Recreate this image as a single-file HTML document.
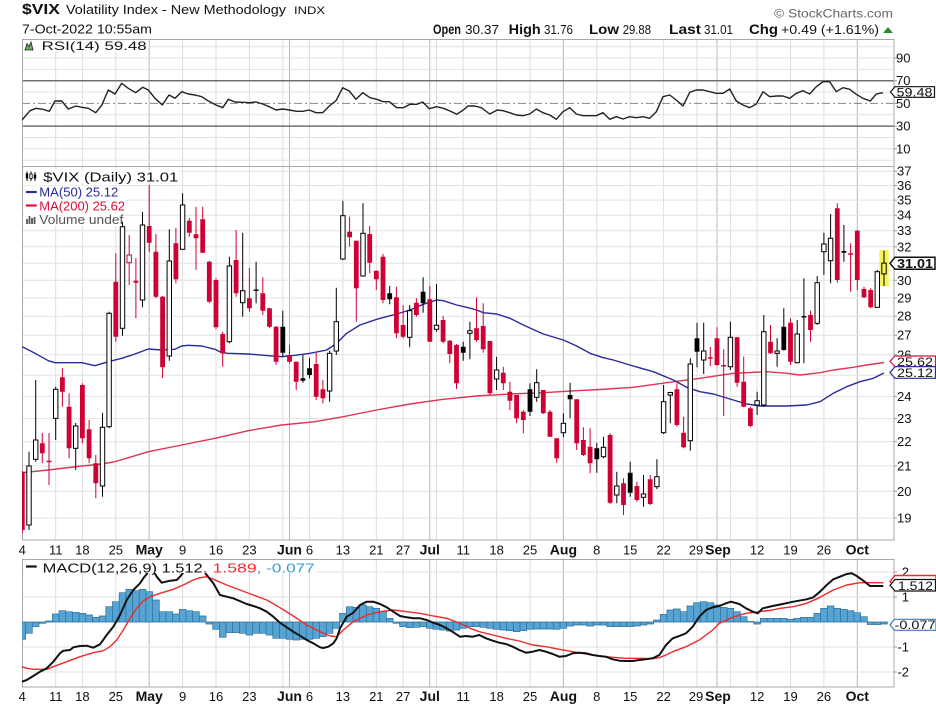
<!DOCTYPE html>
<html><head><meta charset="utf-8"><style>
html,body{margin:0;padding:0;background:#fff;}
svg{display:block;}
text{font-family:"Liberation Sans",Arial,sans-serif;}
</style></head><body>
<svg width="936" height="710" viewBox="0 0 936 710" xmlns="http://www.w3.org/2000/svg">
<defs>
<clipPath id="cr"><rect x="22" y="39" width="872" height="127"/></clipPath>
<clipPath id="cm"><rect x="22" y="166" width="872" height="374"/></clipPath>
<clipPath id="cd"><rect x="22" y="559" width="872" height="128"/></clipPath>
</defs>
<rect width="936" height="710" fill="#fff"/>

<!-- header -->
<text x="22" y="14" font-size="15" font-weight="bold" fill="#111" textLength="38" lengthAdjust="spacingAndGlyphs">$VIX</text>
<text x="66" y="14" font-size="13" fill="#111" textLength="220" lengthAdjust="spacingAndGlyphs">Volatility Index - New Methodology</text>
<text x="294" y="14" font-size="11" fill="#111" textLength="31" lengthAdjust="spacingAndGlyphs">INDX</text>
<text x="22" y="33.5" font-size="12.5" fill="#111" textLength="130" lengthAdjust="spacingAndGlyphs">7-Oct-2022 10:55am</text>
<text x="774" y="17.5" font-size="12" fill="#666" textLength="119" lengthAdjust="spacingAndGlyphs">© StockCharts.com</text>
<g font-size="13.5" fill="#111">
<text x="433" y="34" font-weight="bold" textLength="28" lengthAdjust="spacingAndGlyphs">Open</text>
<text x="465" y="34" font-size="12.5" textLength="34" lengthAdjust="spacingAndGlyphs">30.37</text>
<text x="508.7" y="34" font-weight="bold" textLength="32" lengthAdjust="spacingAndGlyphs">High</text>
<text x="544" y="34" font-size="12.5" textLength="29" lengthAdjust="spacingAndGlyphs">31.76</text>
<text x="589" y="34" font-weight="bold" textLength="30" lengthAdjust="spacingAndGlyphs">Low</text>
<text x="622.7" y="34" font-size="12.5" textLength="28.3" lengthAdjust="spacingAndGlyphs">29.88</text>
<text x="669" y="34" font-weight="bold" textLength="32" lengthAdjust="spacingAndGlyphs">Last</text>
<text x="704" y="34" font-size="12.5" textLength="29" lengthAdjust="spacingAndGlyphs">31.01</text>
<text x="749" y="34" font-weight="bold" textLength="29" lengthAdjust="spacingAndGlyphs">Chg</text>
<text x="781" y="34" font-size="12.5" textLength="98" lengthAdjust="spacingAndGlyphs">+0.49 (+1.61%)</text>
</g>
<polygon points="883,33 893,33 888,27" fill="#2e8b2e"/>

<!-- vertical gridlines (full height, gap covered later) -->
<path d="M55.7 39V687M82.4 39V687M115.8 39V687M182.6 39V687M216 39V687M249.4 39V687M282.8 39V687M309.5 39V687M342.9 39V687M376.3 39V687M403.1 39V687M436.5 39V687M463.2 39V687M496.6 39V687M530 39V687M596.8 39V687M630.2 39V687M663.6 39V687M697 39V687M730.4 39V687M757.1 39V687M790.5 39V687M823.9 39V687" stroke="#dedede" stroke-width="1" fill="none"/>
<path d="M149.2 39V687M289.5 39V687M429.8 39V687M563.4 39V687M717 39V687M857.3 39V687" stroke="#b8b8b8" stroke-width="1" fill="none"/>
<rect x="20" y="540.5" width="878" height="18" fill="#fff"/>

<!-- horizontal gridlines -->
<path d="M22 46.7H894M22 58H894M22 69.4H894M22 92.1H894M22 114.8H894M22 137.5H894M22 148.8H894M22 160.2H894" stroke="#e2e2e2" stroke-width="1"/>
<path d="M22 171.2H894M22 185.5H894M22 200.1H894M22 215.2H894M22 230.7H894M22 246.8H894M22 263.3H894M22 280.3H894M22 298H894M22 316.2H894M22 335.2H894M22 354.8H894M22 375.2H894M22 396.4H894M22 418.6H894M22 441.7H894M22 465.9H894M22 491.3H894M22 518H894" stroke="#e2e2e2" stroke-width="1"/>
<path d="M22 572H894M22 597H894M22 622H894M22 647H894M22 672H894" stroke="#e2e2e2" stroke-width="1"/>

<!-- RSI reference lines -->
<path d="M22 80.7H894M22 126.1H894" stroke="#707070" stroke-width="1.5"/>
<path d="M22 103.4H894" stroke="#888" stroke-width="1" stroke-dasharray="8,3,2,3"/>

<!-- panel frames -->
<g fill="none" stroke="#a8a8a8" stroke-width="1">
<rect x="22.5" y="39.5" width="871.5" height="127"/>
<rect x="22.5" y="166.5" width="871.5" height="373.5"/>
<rect x="22.5" y="559.5" width="871.5" height="127.5"/>
</g>
<!-- right axis ticks -->
<path d="M894 58h3M894 80.7h3M894 103.4h3M894 126.1h3M894 148.8h3M894 171.2h3M894 185.5h3M894 200.1h3M894 215.2h3M894 230.7h3M894 246.8h3M894 263.3h3M894 280.3h3M894 298h3M894 316.2h3M894 335.2h3M894 354.8h3M894 375.2h3M894 396.4h3M894 418.6h3M894 441.7h3M894 465.9h3M894 491.3h3M894 518h3M894 572h3M894 597h3M894 622h3M894 647h3M894 672h3" stroke="#999" stroke-width="1"/>

<!-- RSI line -->
<g clip-path="url(#cr)">
<polyline fill="none" stroke="#222" stroke-width="1.4" stroke-linejoin="round" points="22,120 30,110.7 36,108.3 42.7,109.3 49.3,111.3 55,101 61.7,101 68.3,109 76,106 81.7,107.3 88.3,108.3 95.7,112.7 101.7,105.3 108.3,90 115,94 121.7,83.3 128.3,88.3 135.7,92.7 142.7,87.3 148.3,90 155,98.3 162.3,105 169,95 175,98.3 181.7,91.7 188.3,94 195,95 201.7,96.7 208.3,101 216,105 222.7,107.7 228.3,99.3 235,102 242.7,102.3 249.3,102.7 256,102 262.7,104 269.3,106.7 276,110 282.7,109 289.3,110 296.7,111.3 302.7,111.3 309.3,110 316,112.7 322.7,112.7 329.3,106 336,100.7 342.7,87.7 349.3,91 356,99.3 362.7,92.7 370,97.7 376.7,99.3 383.3,101.7 389.3,101.7 396.7,107.7 403.3,107.7 410,104.3 416.7,104.3 422.7,102 429.3,108.7 436.7,106.7 443.3,108.3 450,111 456.7,114.3 463.3,110 468,106 474.7,106 481.3,107.7 489.7,114 497.3,110 503,110.7 509.7,112.7 516.3,115 523,115.7 529.7,114 536.3,109 543,112.7 549.7,115 556.3,119.3 563,111.7 569.7,107.7 576.3,114 583,115.7 589.7,115.7 596.3,115.7 603,112.7 609.7,119.3 616.3,116.7 623,119 629.7,116.7 636.3,117.7 643,116.7 649.7,118.3 656.3,111.7 663,96.7 669.7,95 676.3,100 683,106 689.7,92.3 696.3,90 703,90 709.7,91.7 716.3,93.3 723,93.3 729.7,89 736.3,101 743,105 749.7,107.7 756.3,104 763,91.7 769.7,96.7 776.3,96 783,96 789.7,98.3 796.3,93.3 803,90.7 809.7,94 816.3,86.7 823,81.7 829.7,81.7 836.3,91.7 843,87.7 849.7,89.3 856.3,94.3 863,98.3 870.3,101 876.3,94 883,92.7"/>
</g>
<!-- RSI legend -->
<rect x="24" y="40" width="124" height="11" fill="#fff"/>
<polygon points="25,50 27,43.5 29,46.5 31,42 33,50" fill="#6aa86a" stroke="#222" stroke-width="0.8"/>
<text x="41.7" y="50" font-size="12" fill="#111" textLength="105" lengthAdjust="spacingAndGlyphs">RSI(14) 59.48</text>

<!-- main panel -->
<g clip-path="url(#cm)">
<polyline fill="none" stroke="#dd3555" stroke-width="1.4" stroke-linejoin="round" points="22.3,472.7 48.3,470 81.7,466 101.7,464 115,461.7 148.3,451.7 181.7,445 215,438.3 248.3,430.7 281.7,425 315,421.7 343.3,416.7 376.7,410 410,404 443.3,399.3 476.7,396 510,394 543.3,392.7 576.7,390.7 600,389.5 633.3,387.3 666.7,382.7 700,378.3 733.3,373.3 766.7,371.7 786.7,373.3 800,375 820,372.7 833.3,370 853.3,367.3 866.7,365 884,362.5"/>
<polyline fill="none" stroke="#2a2a9c" stroke-width="1.4" stroke-linejoin="round" points="22.3,346.7 35,353.3 48.3,360.7 55,362.7 81.7,362.7 95,365.7 108.3,361.7 121.7,358.3 135,354 148.3,349 161.7,350 175,349.3 181.7,346 188.3,345.3 201.7,346 215,349.3 221.7,352.7 228.3,353.3 248.3,354 268.3,355.7 281.7,356.7 295,355.3 310,353.3 326.7,350 336.7,343.3 346.7,333.3 360,325 376.7,319.3 396.7,314 410,310 423.3,304.3 436.7,300 443.3,300.7 456.7,305 466.7,307.3 476.7,310 483.3,312.7 496.7,314 510,318.3 523.3,325 543.3,334 563.3,340 576.7,346 590,353.3 603.3,357.7 613.3,360 633.3,366 653.3,371.7 673.3,380 686.7,387.3 700,391.7 713.3,394 733.3,400 746.7,404 760,406 786.7,406 806.7,405 820,401.7 833.3,393.3 846.7,386.7 860,381.7 873.3,378.3 884,373"/>

<rect x="879.3" y="250" width="9.4" height="36" fill="#f7f35a"/>

<!-- red wicks -->
<path fill="none" stroke="#cf0033" stroke-width="1" d="M22.3 471V533M42.3 433V463M49 433V485M62.4 368.3V406.7M69.1 393.3V458.3M82.4 383.3V443.3M89.1 420V463.3M95.8 455V498.3M115.8 253.3V341.7M129.2 235V285M135.9 258.3V318.3M149.2 185V251.7M155.9 234V298.3M162.6 296V378.3M175.9 228V283.3M189.3 218V236.7M196 206.7V270M202.7 206.7V253.3M209.3 260.7V303.3M216 278.3V329.3M222.7 331.7V366.7M236.1 230V296.7M249.4 268V311.7M262.8 277.3V315M269.5 308V328.3M276.1 326V365M289.5 345V363.3M296.2 361.7V390M316.2 353V400M322.9 380V403.3M349.6 216.7V246.7M356.3 240.7V321.7M369.7 226V273.3M376.3 270.7V290M383 254V303.3M396.4 286.7V338.3M403.1 305V338.3M416.4 298.3V316.7M429.8 286V341.7M443.1 316V343.3M449.8 340V363.3M456.5 344V389M476.5 297.3V341.7M483.2 303.3V352.7M489.9 341V395M503.3 366.7V390M509.9 381.7V410M516.6 395V423.3M523.3 410V433.3M543.3 390V414M550 410V436.7M556.7 438.3V462.7M576.7 399.3V450M583.4 427.3V456M590.1 428.3V473.3M610.1 433.3V504M623.5 478.3V515M636.9 481.7V501.7M650.2 475V505M676.9 383.3V426.7M683.6 416.7V448.3M710.3 347V366M717 327.3V366M723.7 349.3V416M737.1 336.7V386.7M743.7 356.7V407.3M750.4 406.7V427.3M770.5 325V354M790.5 318.3V365M810.5 310.7V341.7M837.3 203.3V282.7M850.6 243.3V291.7M857.3 230V290M864 286.7V298.3M870.7 288.3V308.3"/>
<!-- black wicks -->
<path fill="none" stroke="#000" stroke-width="1" d="M256.1 261.7V303.3M282.8 310.7V356.7M302.9 355V382.7M309.5 358.3V378.3M389.7 285.7V304.3M423.1 277.3V312.7M463.2 341.7V360.7M530 383.3V416M570.1 382.7V418.3M596.8 442.7V472.7M630.2 461.7V496.7M697 322.7V367.3M783.8 308.3V350.7M803.9 278.3V363.3M843.9 225V261.7M29 451.7V530M35.7 380V461.7M55.7 386.7V440M75.7 423V470M102.5 412.7V496.7M109.1 311.7V428.3M122.5 221.7V335.7M142.5 211.7V307.3M169.3 229.3V360.7M182.6 193.3V250M229.4 256.7V343.3M242.7 232.7V316.7M329.6 350.7V401.7M336.3 287.7V355M342.9 200.7V260M363 203.3V276.7M409.7 305V347.3M436.5 284V331.7M469.9 321.7V359.3M496.6 356.7V390M536.7 369.3V401.7M563.4 413.3V437.3M603.5 436.7V458.3M616.8 471.7V503.3M643.5 475V506.7M656.9 459.3V489.3M663.6 385V434M670.3 391.7V423.3M690.3 358.3V450.7M703.7 322.7V374M730.4 321.7V370M757.1 391.7V415M763.8 315V406.7M777.1 338.3V366.7M797.2 320V363.3M817.2 276V325M823.9 232.7V275M830.6 214V283.3M877.3 270V307.3M884 250.6V286"/>

<!-- red filled bodies -->
<path fill="#cf0033" d="M19.9 471.7h4.8V530h-4.8ZM39.9 443.3h4.8V453.3h-4.8ZM46.6 460.7h4.8V462.2h-4.8ZM60 377.3h4.8V391.7h-4.8ZM66.7 406.7h4.8V448.3h-4.8ZM80 385h4.8V438.3h-4.8ZM86.7 429.3h4.8V458.3h-4.8ZM93.4 463.3h4.8V483.3h-4.8ZM113.4 281.7h4.8V336.7h-4.8ZM133.5 280.7h4.8V282.7h-4.8ZM146.8 226h4.8V242.7h-4.8ZM153.5 251.7h4.8V296.7h-4.8ZM160.2 296.7h4.8V367.3h-4.8ZM173.5 243.3h4.8V279.3h-4.8ZM186.9 220.7h4.8V232.7h-4.8ZM193.6 234.3h4.8V238.3h-4.8ZM200.3 219.3h4.8V252.7h-4.8ZM206.9 261.7h4.8V301.7h-4.8ZM213.6 280h4.8V327.3h-4.8ZM220.3 334h4.8V353.3h-4.8ZM233.7 260h4.8V293.3h-4.8ZM247 298.3h4.8V308.3h-4.8ZM260.4 293.3h4.8V310.7h-4.8ZM267.1 308.3h4.8V326.7h-4.8ZM273.7 326.7h4.8V361.7h-4.8ZM287.1 355h4.8V361.7h-4.8ZM293.8 361.7h4.8V381.7h-4.8ZM313.8 364h4.8V396.7h-4.8ZM320.5 389.3h4.8V398.3h-4.8ZM347.2 231.7h4.8V237.3h-4.8ZM353.9 240.7h4.8V288.3h-4.8ZM367.3 234h4.8V262.7h-4.8ZM373.9 270.7h4.8V279.3h-4.8ZM380.6 256.7h4.8V300h-4.8ZM394 297.3h4.8V333.3h-4.8ZM400.7 325h4.8V336.7h-4.8ZM414 302.7h4.8V315h-4.8ZM427.4 299.3h4.8V341.7h-4.8ZM440.7 320h4.8V341.7h-4.8ZM447.4 340.7h4.8V354h-4.8ZM454.1 345h4.8V383.3h-4.8ZM474.1 328.3h4.8V340h-4.8ZM480.8 326h4.8V349.3h-4.8ZM487.5 341h4.8V393.3h-4.8ZM500.9 372.7h4.8V383.3h-4.8ZM507.5 391.7h4.8V400.7h-4.8ZM514.2 395h4.8V418.3h-4.8ZM520.9 411.7h4.8V420h-4.8ZM540.9 390h4.8V413.3h-4.8ZM547.6 411.7h4.8V436.7h-4.8ZM554.3 438.3h4.8V458.3h-4.8ZM574.3 399.3h4.8V443.3h-4.8ZM581 440h4.8V455h-4.8ZM587.7 446.7h4.8V463.3h-4.8ZM607.7 435h4.8V502.7h-4.8ZM621.1 483.3h4.8V505h-4.8ZM634.5 486h4.8V500h-4.8ZM647.8 479.3h4.8V504h-4.8ZM674.5 389.3h4.8V425h-4.8ZM681.2 432.7h4.8V447.3h-4.8ZM707.9 357.3h4.8V358.8h-4.8ZM714.6 338.3h4.8V365h-4.8ZM721.3 365h4.8V366.5h-4.8ZM734.7 337.3h4.8V382.7h-4.8ZM741.3 381.7h4.8V406.7h-4.8ZM748 408.3h4.8V426h-4.8ZM768.1 341.7h4.8V353.3h-4.8ZM788.1 322.7h4.8V361.7h-4.8ZM808.1 315h4.8V330h-4.8ZM834.9 208.3h4.8V280h-4.8ZM848.2 253.3h4.8V254.8h-4.8ZM854.9 230.7h4.8V280h-4.8ZM861.6 289h4.8V297.3h-4.8ZM868.3 290h4.8V307.3h-4.8Z"/>
<rect x="127" y="255" width="4.4" height="7.7" fill="#fff" stroke="#cf0033" stroke-width="1"/>

<!-- black filled bodies -->
<path fill="#000" d="M253.7 289.5h4.8V291h-4.8ZM280.4 326.7h4.8V352.7h-4.8ZM300.5 378.3h4.8V380.7h-4.8ZM307.1 368.3h4.8V375h-4.8ZM387.3 293.3h4.8V299.3h-4.8ZM420.7 291.7h4.8V303.3h-4.8ZM460.8 346.7h4.8V352.7h-4.8ZM527.6 389.3h4.8V411.7h-4.8ZM567.7 395h4.8V399.3h-4.8ZM594.4 448.3h4.8V459.3h-4.8ZM627.8 472.7h4.8V492.7h-4.8ZM694.6 338.3h4.8V351.7h-4.8ZM781.4 326.7h4.8V350h-4.8ZM801.5 316h4.8V317.5h-4.8ZM841.5 251h4.8V252.7h-4.8Z"/>

<!-- black hollow bodies -->
<g fill="#fff" stroke="#000" stroke-width="1">
<rect x="26.8" y="466" width="4.4" height="59"/>
<rect x="33.5" y="440" width="4.4" height="19.3"/>
<rect x="53.5" y="389.3" width="4.4" height="29"/>
<rect x="73.5" y="426" width="4.4" height="22.3"/>
<rect x="100.3" y="427.3" width="4.4" height="58.7"/>
<rect x="106.9" y="313.3" width="4.4" height="113.4"/>
<rect x="120.3" y="226.7" width="4.4" height="101.6"/>
<rect x="140.3" y="225" width="4.4" height="75"/>
<rect x="167.1" y="261" width="4.4" height="95"/>
<rect x="180.4" y="205" width="4.4" height="44.3"/>
<rect x="227.2" y="266" width="4.4" height="75.7"/>
<rect x="240.5" y="290.7" width="4.4" height="12"/>
<rect x="327.4" y="353.3" width="4.4" height="37.7"/>
<rect x="334.1" y="321.7" width="4.4" height="29.3"/>
<rect x="340.7" y="215.7" width="4.4" height="43.3"/>
<rect x="360.8" y="233.3" width="4.4" height="42.7"/>
<rect x="407.5" y="310.7" width="4.4" height="26.6"/>
<rect x="434.3" y="325.3" width="4.4" height="4"/>
<rect x="467.7" y="330.7" width="4.4" height="2.6"/>
<rect x="494.4" y="370" width="4.4" height="9"/>
<rect x="534.5" y="382.7" width="4.4" height="14.6"/>
<rect x="561.2" y="423.3" width="4.4" height="9.4"/>
<rect x="601.3" y="447.3" width="4.4" height="9.4"/>
<rect x="614.6" y="486" width="4.4" height="9"/>
<rect x="641.3" y="494" width="4.4" height="3.3"/>
<rect x="654.7" y="476.7" width="4.4" height="10"/>
<rect x="661.4" y="401.7" width="4.4" height="31"/>
<rect x="668.1" y="392.5" width="4.4" height="2.5"/>
<rect x="688.1" y="364" width="4.4" height="76.7"/>
<rect x="701.5" y="351" width="4.4" height="9"/>
<rect x="728.2" y="337.3" width="4.4" height="29.4"/>
<rect x="754.9" y="400.7" width="4.4" height="4.3"/>
<rect x="761.6" y="331.7" width="4.4" height="73.3"/>
<rect x="774.9" y="351" width="4.4" height="2.3"/>
<rect x="795" y="334" width="4.4" height="28.7"/>
<rect x="815" y="282.7" width="4.4" height="40.6"/>
<rect x="821.7" y="244" width="4.4" height="7.7"/>
<rect x="828.4" y="238.3" width="4.4" height="22.4"/>
<rect x="875.1" y="271.7" width="4.4" height="35.6"/>
<rect x="881.8" y="263.1" width="4.4" height="10.8" fill="#f7f35a"/>
</g>
</g>

<!-- main legend -->
<rect x="24" y="170" width="155" height="13" fill="#fff"/>
<rect x="24" y="185.5" width="95" height="12.5" fill="#fff"/>
<rect x="24" y="199" width="102" height="13" fill="#fff"/>
<rect x="24" y="213" width="97" height="13" fill="#fff"/>
<path d="M27 171.5V181M31 171.5V181M35 172V181" stroke="#000" stroke-width="1"/>
<rect x="25.8" y="173.5" width="2.4" height="5" fill="#000"/>
<rect x="29.8" y="174" width="2.4" height="4.5" fill="#fff" stroke="#000" stroke-width="0.8"/>
<rect x="33.8" y="174.5" width="2.4" height="4" fill="#000"/>
<text x="43.3" y="181.5" font-size="12.5" fill="#111" textLength="135" lengthAdjust="spacingAndGlyphs">$VIX (Daily) 31.01</text>
<path d="M26 192H36.7" stroke="#2a2a9c" stroke-width="2.2"/>
<text x="39.3" y="196.5" font-size="12.5" fill="#2a2a9c" textLength="79" lengthAdjust="spacingAndGlyphs">MA(50) 25.12</text>
<path d="M26 205.5H36.7" stroke="#d8103a" stroke-width="2.2"/>
<text x="39.3" y="210.5" font-size="12.5" fill="#d8103a" textLength="85.7" lengthAdjust="spacingAndGlyphs">MA(200) 25.62</text>
<path d="M27 224V219M29.5 224V216M32 224V218M34.5 224V217" stroke="#555" stroke-width="1.8"/>
<text x="39.3" y="224" font-size="12.5" fill="#555" textLength="84" lengthAdjust="spacingAndGlyphs">Volume undef</text>

<!-- MACD panel -->
<g clip-path="url(#cd)">
<path fill="#57a4d2" stroke="#2a6e9c" stroke-width="0.7" d="M19 622V639.3h6.68V622ZM25.6 622V633.3h6.68V622ZM32.3 622V626.7h6.68V622ZM39 622V623.3h6.68V622ZM45.7 622V621h6.68V622ZM52.4 622V614h6.68V622ZM59 622V610.7h6.68V622ZM65.7 622V611.7h6.68V622ZM72.4 622V612.3h6.68V622ZM79.1 622V613.3h6.68V622ZM85.8 622V615h6.68V622ZM92.4 622V617.3h6.68V622ZM99.1 622V616h6.68V622ZM105.8 622V606.7h6.68V622ZM112.5 622V601.7h6.68V622ZM119.2 622V592.7h6.68V622ZM125.8 622V589.3h6.68V622ZM132.5 622V590.7h6.68V622ZM139.2 622V589.3h6.68V622ZM145.9 622V591.7h6.68V622ZM152.6 622V600h6.68V622ZM159.2 622V611.7h6.68V622ZM165.9 622V611.7h6.68V622ZM172.6 622V614h6.68V622ZM179.3 622V609.3h6.68V622ZM186 622V610.7h6.68V622ZM192.6 622V611.7h6.68V622ZM199.3 622V616h6.68V622ZM206 622V624h6.68V622ZM212.7 622V629.3h6.68V622ZM219.4 622V637.3h6.68V622ZM226 622V632.7h6.68V622ZM232.7 622V632.7h6.68V622ZM239.4 622V633.3h6.68V622ZM246.1 622V635h6.68V622ZM252.8 622V633.3h6.68V622ZM259.4 622V633.3h6.68V622ZM266.1 622V635h6.68V622ZM272.8 622V638.3h6.68V622ZM279.5 622V638.3h6.68V622ZM286.2 622V639.3h6.68V622ZM292.8 622V640h6.68V622ZM299.5 622V639.3h6.68V622ZM306.2 622V639.3h6.68V622ZM312.9 622V638.3h6.68V622ZM319.6 622V636.7h6.68V622ZM326.2 622V633.3h6.68V622ZM332.9 622V628.3h6.68V622ZM339.6 622V613.3h6.68V622ZM346.3 622V606.7h6.68V622ZM353 622V607.3h6.68V622ZM359.6 622V605h6.68V622ZM366.3 622V606.7h6.68V622ZM373 622V608.3h6.68V622ZM379.7 622V611.7h6.68V622ZM386.4 622V618.3h6.68V622ZM393 622V623.3h6.68V622ZM399.7 622V626.7h6.68V622ZM406.4 622V627.7h6.68V622ZM413.1 622V627.3h6.68V622ZM419.8 622V626.7h6.68V622ZM426.4 622V628.3h6.68V622ZM433.1 622V629.3h6.68V622ZM439.8 622V630h6.68V622ZM446.5 622V631h6.68V622ZM453.2 622V630h6.68V622ZM459.8 622V628.3h6.68V622ZM466.5 622V626.7h6.68V622ZM473.2 622V626.7h6.68V622ZM479.9 622V627.3h6.68V622ZM486.6 622V628.3h6.68V622ZM493.2 622V629.3h6.68V622ZM499.9 622V630h6.68V622ZM506.6 622V630.7h6.68V622ZM513.3 622V631.7h6.68V622ZM520 622V630.7h6.68V622ZM526.6 622V629.3h6.68V622ZM533.3 622V629h6.68V622ZM540 622V629h6.68V622ZM546.7 622V629h6.68V622ZM553.4 622V629.3h6.68V622ZM560 622V628.3h6.68V622ZM566.7 622V626h6.68V622ZM573.4 622V625h6.68V622ZM580.1 622V625h6.68V622ZM586.8 622V626h6.68V622ZM593.4 622V625h6.68V622ZM600.1 622V625h6.68V622ZM606.8 622V626.7h6.68V622ZM613.5 622V626.7h6.68V622ZM620.2 622V626.7h6.68V622ZM626.8 622V626.7h6.68V622ZM633.5 622V626h6.68V622ZM640.2 622V625h6.68V622ZM646.9 622V624h6.68V622ZM653.6 622V620h6.68V622ZM660.2 622V614.3h6.68V622ZM666.9 622V610h6.68V622ZM673.6 622V609h6.68V622ZM680.3 622V611.7h6.68V622ZM687 622V606h6.68V622ZM693.6 622V602.7h6.68V622ZM700.3 622V601.7h6.68V622ZM707 622V602.7h6.68V622ZM713.7 622V605h6.68V622ZM720.4 622V607.3h6.68V622ZM727 622V608.3h6.68V622ZM733.7 622V611.7h6.68V622ZM740.4 622V616.7h6.68V622ZM747.1 622V621.5h6.68V622ZM753.8 622V624h6.68V622ZM760.4 622V618.3h6.68V622ZM767.1 622V618.3h6.68V622ZM773.8 622V618.3h6.68V622ZM780.5 622V618.3h6.68V622ZM787.2 622V619.3h6.68V622ZM793.8 622V618.3h6.68V622ZM800.5 622V617.3h6.68V622ZM807.2 622V617.3h6.68V622ZM813.9 622V613.3h6.68V622ZM820.6 622V608.3h6.68V622ZM827.2 622V606h6.68V622ZM833.9 622V608.3h6.68V622ZM840.6 622V609.3h6.68V622ZM847.3 622V610.7h6.68V622ZM854 622V612.7h6.68V622ZM860.6 622V616.7h6.68V622ZM867.3 622V624.5h6.68V622ZM874 622V624.5h6.68V622ZM880.7 622V624h6.68V622Z"/>
<polyline fill="none" stroke="#f02a2a" stroke-width="1.4" stroke-linejoin="round" points="22,666.7 26.7,668.3 33.3,669.3 46.7,669.3 53.3,666.7 66.7,661.7 80,656.7 93.3,652.7 103.3,650.7 110,646.7 116.7,640 123.3,630 130,618.3 136.7,608.3 143.3,601 150,596.7 160,593.3 173.3,589.3 183.3,585 193.3,580 200,577.7 206.7,576.7 213.3,579.3 226.7,585 240,590 253.3,595 266.7,600 280,607.7 293.3,616 306.7,625 320,631.7 330,636 336.7,636.7 343.3,630 353.3,621.7 366.7,615 380,611.7 393.3,610 406.7,611.7 420,613.3 433.3,616 446.7,618.3 460,623.3 470,628.3 479.3,631.7 492.7,635 506,638.3 519.3,641 532.7,645 546,646.7 559.3,649.3 572.7,651.7 586,654 599.3,656 612.7,657.3 626,658.3 639.3,658.3 652.7,658.7 659.3,657.7 666,655 672.7,651.7 686,646.7 699.3,640 712.7,630 719.3,623.3 732.7,617.3 746,613.3 759.3,611.7 772.7,610 780,608.3 793.3,606.7 806.7,603.3 820,597.3 833.3,590 846.7,585 860,582.7 870,582.7 883.3,582.7"/>
<polyline fill="none" stroke="#111" stroke-width="2" stroke-linejoin="round" points="22,681.7 26.7,680 33.3,676 40,671.7 46.7,668.3 53.3,661.7 60,653.3 63.3,650.7 70,650 73.3,647.3 80,646 86.7,645.7 93.3,647.7 100,644.3 106.7,635 113.3,626.7 120,615 126.7,600 133.3,590 140,583.3 143.3,578.3 146.7,574 150,568 153,570 156.7,576.7 161.7,582.7 170,580.7 176.7,580 180,576.7 186,569 195,566 203,570 206.7,575 213.3,583.3 220,595 226.7,596.7 233.3,598.3 246.7,604 253.3,606 260,608.3 266.7,611.7 273.3,616.7 280,622.7 286.7,627.3 293.3,631.7 300,635.7 306.7,640 313.3,643.3 320,647.3 323.3,648 328.3,646.7 333.3,643.3 336.7,638.3 340,628.3 346.7,616.7 353.3,612.7 360,605 366.7,601.7 373.3,601.7 380,604 386.7,607.3 393.3,611.7 400,616 406.7,617.3 413.3,618.3 420,618.3 426.7,620 433.3,622.7 440,625 446.7,628.3 453.3,632.3 460,636.7 466,636 472.7,636.7 479.3,635 486,638.3 492.7,640.7 499.3,642.7 506,644 512.7,646.7 519.3,650 526,652.7 532.7,651.7 539.3,650 546,651.7 552.7,654 559.3,656.7 566,656 572.7,653.3 579.3,652.7 586,653.3 592.7,655 599.3,656 606,656.7 612.7,659.3 619.3,660.7 626,661 632.7,661 639.3,660 646,659.3 652.7,658.3 659.3,655 666,645 672.7,638.3 679.3,636 686,633.3 692.7,626.7 699.3,616.7 706,610 712.7,607.3 719.3,606 726,603.3 731,601.7 739.3,604 746,608.3 752.7,611.7 757.7,613.3 762.7,608.3 772.7,606 782.7,604 793.3,601.7 806.7,599.3 813.3,597.3 820,591.7 826.7,585 833.3,579.3 840,576.7 846.7,574 851.7,573.3 856.7,576 863.3,580.7 870,586 876.7,586 883.3,586"/>
</g>
<!-- MACD legend -->
<rect x="24" y="560" width="292" height="13" fill="#fff"/>
<path d="M26 566.5H36.7" stroke="#111" stroke-width="2.2"/>
<text x="42.7" y="572.5" font-size="12.5" fill="#111" textLength="160" lengthAdjust="spacingAndGlyphs">MACD(12,26,9) 1.512</text>
<text x="202.7" y="572.5" font-size="12.5" fill="#f02a2a" textLength="54" lengthAdjust="spacingAndGlyphs">, 1.589</text>
<text x="256.7" y="572.5" font-size="12.5" fill="#3a9ad0" textLength="58" lengthAdjust="spacingAndGlyphs">, -0.077</text>

<!-- x axis labels -->
<g font-size="13" fill="#111" text-anchor="middle">
<text x="22.3" y="554.5">4</text><text x="55.7" y="554.5">11</text><text x="82.4" y="554.5">18</text><text x="115.8" y="554.5">25</text>
<text x="149.2" y="554.5" font-weight="bold" font-size="14">May</text>
<text x="182.6" y="554.5">9</text><text x="216" y="554.5">16</text><text x="249.4" y="554.5">23</text>
<text x="289.5" y="554.5" font-weight="bold" font-size="14">Jun</text>
<text x="309.5" y="554.5">6</text><text x="342.9" y="554.5">13</text><text x="376.3" y="554.5">21</text><text x="403.1" y="554.5">27</text>
<text x="429.8" y="554.5" font-weight="bold" font-size="14">Jul</text>
<text x="463.2" y="554.5">11</text><text x="496.6" y="554.5">18</text><text x="530" y="554.5">25</text>
<text x="563.4" y="554.5" font-weight="bold" font-size="14">Aug</text>
<text x="596.8" y="554.5">8</text><text x="630.2" y="554.5">15</text><text x="663.6" y="554.5">22</text><text x="696" y="554.5">29</text>
<text x="718" y="554.5" font-weight="bold" font-size="14">Sep</text>
<text x="757.1" y="554.5">12</text><text x="790.5" y="554.5">19</text><text x="823.9" y="554.5">26</text>
<text x="857.3" y="554.5" font-weight="bold" font-size="14">Oct</text>

<text x="22.3" y="701">4</text><text x="55.7" y="701">11</text><text x="82.4" y="701">18</text><text x="115.8" y="701">25</text>
<text x="149.2" y="701" font-weight="bold" font-size="14">May</text>
<text x="182.6" y="701">9</text><text x="216" y="701">16</text><text x="249.4" y="701">23</text>
<text x="289.5" y="701" font-weight="bold" font-size="14">Jun</text>
<text x="309.5" y="701">6</text><text x="342.9" y="701">13</text><text x="376.3" y="701">21</text><text x="403.1" y="701">27</text>
<text x="429.8" y="701" font-weight="bold" font-size="14">Jul</text>
<text x="463.2" y="701">11</text><text x="496.6" y="701">18</text><text x="530" y="701">25</text>
<text x="563.4" y="701" font-weight="bold" font-size="14">Aug</text>
<text x="596.8" y="701">8</text><text x="630.2" y="701">15</text><text x="663.6" y="701">22</text><text x="696" y="701">29</text>
<text x="718" y="701" font-weight="bold" font-size="14">Sep</text>
<text x="757.1" y="701">12</text><text x="790.5" y="701">19</text><text x="823.9" y="701">26</text>
<text x="857.3" y="701" font-weight="bold" font-size="14">Oct</text>
</g>

<!-- right axis labels -->
<g font-size="13" fill="#111">
<text x="896" y="62.5">90</text><text x="896" y="85.2">70</text><text x="896" y="107.9">50</text><text x="896" y="130.6">30</text><text x="896" y="153.3">10</text>
<text x="897" y="175.7">37</text><text x="897" y="190">36</text><text x="897" y="204.6">35</text><text x="897" y="219.7">34</text><text x="897" y="235.2">33</text><text x="897" y="251.3">32</text>
<text x="897" y="284.8">30</text><text x="897" y="302.5">29</text><text x="897" y="320.7">28</text><text x="897" y="339.7">27</text><text x="897" y="359.3">26</text>
<text x="897" y="400.9">24</text><text x="897" y="423.1">23</text><text x="897" y="446.2">22</text><text x="897" y="470.4">21</text><text x="897" y="495.8">20</text><text x="897" y="522.5">19</text>
<g text-anchor="end"><text x="909" y="576.5">2</text><text x="909" y="601.5">1</text><text x="909" y="651.5">-1</text><text x="909" y="676.5">-2</text></g>
</g>

<!-- value boxes -->
<polygon points="890.5,92 895,86.7 934.5,86.7 934.5,97.3 895,97.3" fill="#fff" stroke="#111" stroke-width="1.2"/>
<text x="896.5" y="96.3" font-size="12" fill="#111" textLength="36" lengthAdjust="spacingAndGlyphs">59.48</text>

<polygon points="890,263.3 895,257.3 935,257.3 935,269.3 895,269.3" fill="#fff" stroke="#111" stroke-width="1.5"/>
<text x="897" y="268.2" font-size="13" font-weight="bold" fill="#111" textLength="36" lengthAdjust="spacingAndGlyphs">31.01</text>

<polygon points="890,361.3 895,356 935.5,356 935.5,366.7 895,366.7" fill="#fff" stroke="#d8103a" stroke-width="1.2"/>
<text x="897" y="365.8" font-size="12" fill="#111" textLength="36" lengthAdjust="spacingAndGlyphs">25.62</text>
<polygon points="890,372.5 895,366.7 935.5,366.7 935.5,378.3 895,378.3" fill="#fff" stroke="#2a2a9c" stroke-width="1.2"/>
<text x="897" y="377.2" font-size="12" fill="#111" textLength="36" lengthAdjust="spacingAndGlyphs">25.12</text>

<polygon points="890,581.5 895,575.5 936,575.5 936,587.5 895,587.5" fill="#fff" stroke="#f02a2a" stroke-width="1.4"/>
<polygon points="890,585.3 895,579.5 935.5,579.5 935.5,591 895,591" fill="#fff" stroke="#111" stroke-width="1.2"/>
<text x="898" y="589.8" font-size="12" fill="#111" textLength="35" lengthAdjust="spacingAndGlyphs">1.512</text>
<polygon points="890,624.8 894.5,619.3 936,619.3 936,630.3 894.5,630.3" fill="#fff" stroke="#3a7ac0" stroke-width="1.2"/>
<text x="894.5" y="629" font-size="12" fill="#111" textLength="41" lengthAdjust="spacingAndGlyphs">-0.077</text>
</svg>
</body></html>
